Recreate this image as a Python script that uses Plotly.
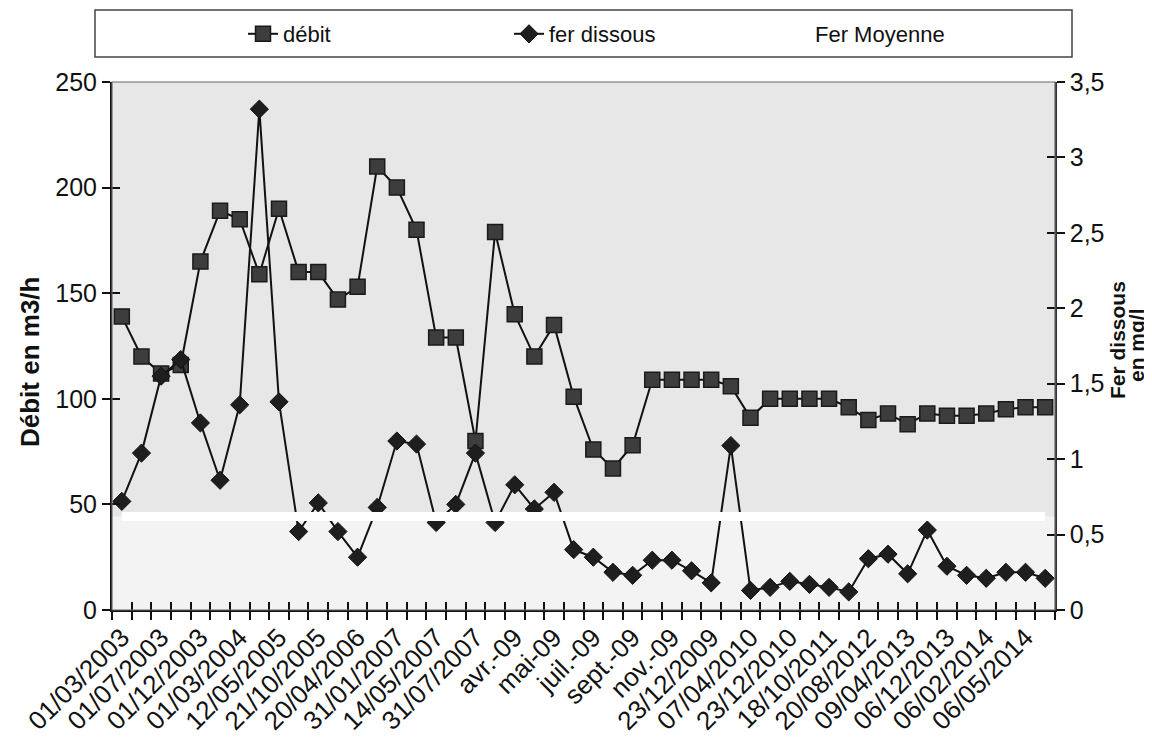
import plotly.graph_objects as go

# ---------------- data ----------------
x_labels = ["01/03/2003", "01/07/2003", "01/12/2003", "01/03/2004", "12/05/2005",
            "21/10/2005", "20/04/2006", "31/01/2007", "14/05/2007", "31/07/2007",
            "avr.-09", "mai-09", "juil.-09", "sept.-09", "nov.-09", "23/12/2009",
            "07/04/2010", "23/12/2010", "18/10/2011", "20/08/2012", "09/04/2013",
            "06/12/2013", "06/02/2014", "06/05/2014"]

debit = [139, 120, 112, 116, 165, 189, 185, 159, 190, 160,
         160, 147, 153, 210, 200, 180, 129, 129, 80, 179,
         140, 120, 135, 101, 76, 67, 78, 109, 109, 109,
         109, 106, 91, 100, 100, 100, 100, 96, 90, 93,
         88, 93, 92, 92, 93, 95, 96, 96]

fer_dissous = [0.72, 1.04, 1.55, 1.66, 1.24, 0.86, 1.36, 3.32, 1.38, 0.52,
               0.71, 0.52, 0.35, 0.68, 1.12, 1.10, 0.58, 0.70, 1.04, 0.58,
               0.83, 0.67, 0.78, 0.40, 0.35, 0.25, 0.23, 0.33, 0.33, 0.26,
               0.18, 1.09, 0.13, 0.15, 0.19, 0.17, 0.15, 0.12, 0.34, 0.37,
               0.24, 0.53, 0.29, 0.23, 0.21, 0.25, 0.25, 0.21]

fer_moyenne = [0.62, 0.62, 0.62, 0.62, 0.62, 0.62, 0.62, 0.62, 0.62, 0.62,
               0.62, 0.62, 0.62, 0.62, 0.62, 0.62, 0.62, 0.62, 0.62, 0.62,
               0.62, 0.62, 0.62, 0.62, 0.62, 0.62, 0.62, 0.62, 0.62, 0.62,
               0.62, 0.62, 0.62, 0.62, 0.62, 0.62, 0.62, 0.62, 0.62, 0.62,
               0.62, 0.62, 0.62, 0.62, 0.62, 0.62, 0.62, 0.62]

debit_ticks = [0, 50, 100, 150, 200, 250]
fer_ticks = [0, 0.5, 1, 1.5, 2, 2.5, 3, 3.5]

# ---------------- figure ----------------
n = len(debit)
idx = list(range(n))
label_pos = idx[::2]
boundaries = [i - 0.5 for i in range(n + 1)]
FONT = "Liberation Sans, Arial, sans-serif"

# page offset of the html body (8 px) is compensated in the figure size/margins
W, H = 1144, 736
PL, PR, PT, PB = 112, 1055, 82, 610          # plot area in page pixels


def px(xp):
    return (xp - PL) / (PR - PL)


def py(yp):
    return (PB - yp) / (PB - PT)


fig = go.Figure()
fig.add_trace(go.Scatter(
    x=idx, y=debit, name="débit", mode="lines+markers", yaxis="y",
    line=dict(color="#111111", width=2),
    marker=dict(symbol="square", size=15, color="#3d3d3d",
                line=dict(color="#1a1a1a", width=1.5))))
fig.add_trace(go.Scatter(
    x=idx, y=fer_dissous, name="fer dissous", mode="lines+markers", yaxis="y2",
    line=dict(color="#111111", width=2),
    marker=dict(symbol="diamond", size=14, color="#1e1e1e",
                line=dict(color="#111111", width=1))))
fig.add_trace(go.Scatter(
    x=idx, y=fer_moyenne, name="Fer Moyenne", mode="lines", yaxis="y2",
    line=dict(color="#ffffff", width=9)))
# helper traces so that overlay axes (inward half of crossing ticks) render
fig.add_trace(go.Scatter(x=[None], y=[None], xaxis="x2", yaxis="y3",
                         showlegend=False, hoverinfo="skip"))
fig.add_trace(go.Scatter(x=[None], y=[None], xaxis="x2", yaxis="y4",
                         showlegend=False, hoverinfo="skip"))

xr = [-0.5, n - 0.5]
fig.update_layout(
    width=W, height=H,
    margin=dict(l=PL - 8, r=W - (PR - 8), t=PT - 8, b=H - (PB - 8), autoexpand=False),
    paper_bgcolor="white",
    plot_bgcolor="#e7e7e7",
    separators=", ",
    font=dict(family=FONT, color="#111111", size=24),
    showlegend=True,
    legend=dict(orientation="h", x=px(243), y=py(34), xanchor="left", yanchor="middle",
                bgcolor="rgba(0,0,0,0)", borderwidth=0, entrywidth=221,
                font=dict(family="Liberation Sans Narrow, Liberation Sans, Arial", size=22,
                          color="#111111")),
    xaxis=dict(range=xr, tickmode="array", tickvals=label_pos, ticktext=x_labels,
               tickangle=-45, ticks="", showgrid=False, zeroline=False,
               showline=True, linecolor="#111111", linewidth=2,
               tickfont=dict(size=26, family=FONT),
               minor=dict(tickmode="array", tickvals=boundaries, ticks="outside",
                          ticklen=8, tickwidth=1.5, tickcolor="#111111", showgrid=False)),
    xaxis2=dict(range=xr, overlaying="x", anchor="y3", side="bottom",
                tickmode="array", tickvals=boundaries, ticks="inside", ticklen=8,
                tickwidth=1.5, tickcolor="#111111", showticklabels=False,
                showgrid=False, zeroline=False, showline=False),
    yaxis=dict(range=[0, 250], tickmode="array", tickvals=debit_ticks,
               ticks="outside", ticklen=8, tickwidth=1.5, tickcolor="#111111",
               showgrid=False, zeroline=False, showline=True,
               linecolor="#111111", linewidth=2,
               tickfont=dict(size=25, family=FONT)),
    yaxis2=dict(range=[0, 3.5], overlaying="y", side="right", tickmode="array",
                tickvals=fer_ticks, ticks="outside", ticklen=8, tickwidth=1.5,
                tickcolor="#111111", showgrid=False, zeroline=False, showline=True,
                linecolor="#333333", linewidth=1.5,
                tickfont=dict(size=25, family=FONT)),
    yaxis3=dict(range=[0, 250], overlaying="y", side="left", anchor="x2",
                tickmode="array", tickvals=debit_ticks, ticks="inside", ticklen=8,
                tickwidth=1.5, tickcolor="#111111", showticklabels=False,
                showgrid=False, zeroline=False, showline=False),
    yaxis4=dict(range=[0, 3.5], overlaying="y", side="right", anchor="x2",
                tickmode="array", tickvals=fer_ticks, ticks="inside", ticklen=8,
                tickwidth=1.5, tickcolor="#111111", showticklabels=False,
                showgrid=False, zeroline=False, showline=False),
    shapes=[
        # lighter band under the mean line
        dict(type="rect", xref="paper", x0=0, x1=1, yref="y2", y0=0, y1=fer_moyenne[0],
             fillcolor="#f3f3f3", line=dict(width=0), layer="below"),
        # plot-area frame (top edge)
        dict(type="rect", xref="paper", x0=0, x1=1, yref="paper", y0=0, y1=1,
             line=dict(color="#666666", width=1.2), fillcolor="rgba(0,0,0,0)"),
        # legend frame
        dict(type="rect", xref="paper", x0=px(95), x1=px(1072), yref="paper",
             y0=py(57), y1=py(10),
             line=dict(color="#444444", width=1.5), fillcolor="rgba(0,0,0,0)"),
    ],
    annotations=[
        dict(text="<b>Débit en m3/h</b>", textangle=-90, xref="paper", yref="paper",
             x=px(30), y=py(362), xanchor="center", yanchor="middle",
             showarrow=False, font=dict(size=26, family=FONT, color="#111111")),
        dict(text="<b>Fer dissous</b>", textangle=-90, xref="paper", yref="paper",
             x=px(1117), y=py(340), xanchor="center", yanchor="middle",
             showarrow=False, font=dict(size=21, family=FONT, color="#111111")),
        dict(text="<b>en mg/l</b>", textangle=-90, xref="paper", yref="paper",
             x=px(1136), y=py(345), xanchor="center", yanchor="middle",
             showarrow=False, font=dict(size=21, family=FONT, color="#111111")),
    ],
)

fig.write_html("out.html")
